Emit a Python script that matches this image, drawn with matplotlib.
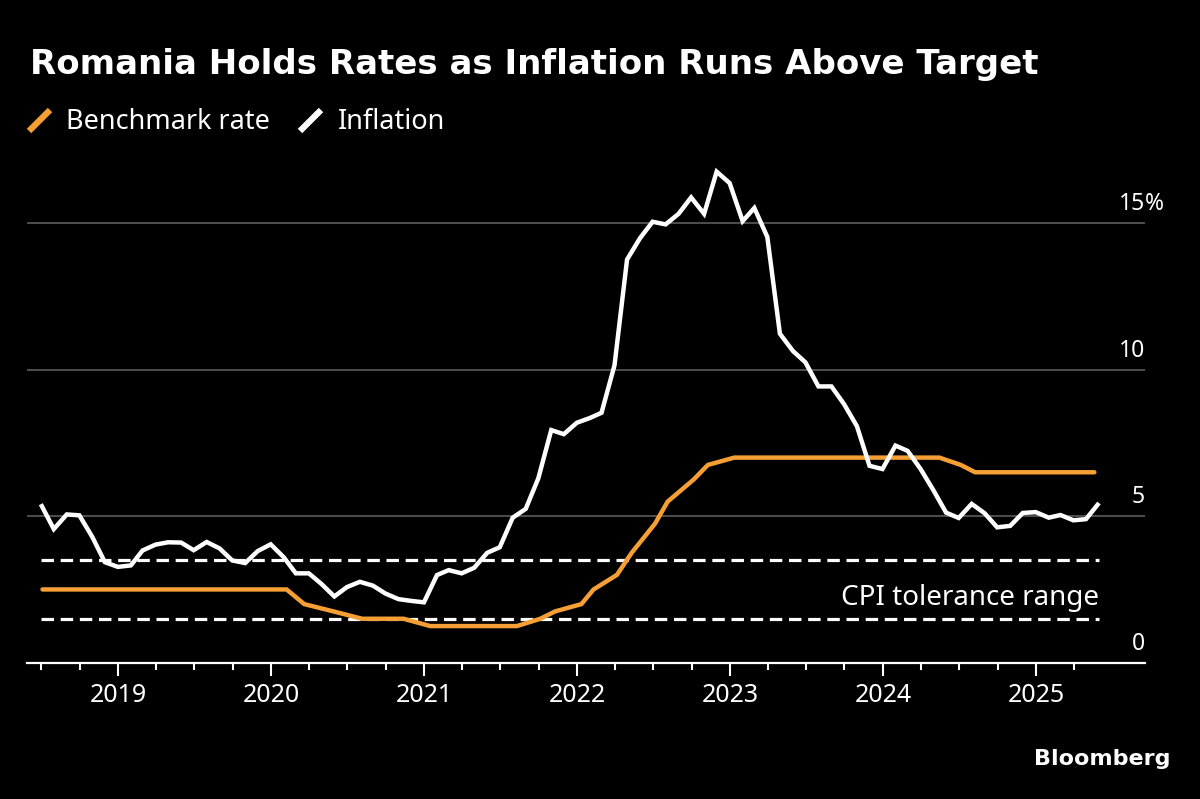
import pandas as pd
import matplotlib.pyplot as plt
import matplotlib.transforms as mtransforms
from matplotlib.lines import Line2D

plt.rcParams['font.family'] = ['Noto Sans', 'DejaVu Sans']

# Romania CPI, year-on-year %, monthly Jun 2018 - May 2025
inflation = [
    5.41, 4.56, 5.06, 5.03, 4.29, 3.43, 3.27,
    3.32, 3.83, 4.03, 4.11, 4.10, 3.84, 4.12, 3.90, 3.49, 3.40, 3.81, 4.04,
    3.60, 3.05, 3.05, 2.69, 2.26, 2.58, 2.76, 2.63, 2.36, 2.17, 2.11, 2.06,
    2.99, 3.16, 3.05, 3.24, 3.75, 3.94, 4.95, 5.25, 6.29, 7.94, 7.80, 8.19,
    8.35, 8.53, 10.15, 13.76, 14.49, 15.05, 14.96, 15.32, 15.88, 15.32, 16.76, 16.37,
    15.07, 15.52, 14.53, 11.23, 10.64, 10.25, 9.43, 9.43, 8.83, 8.07, 6.72, 6.61,
    7.41, 7.23, 6.61, 5.90, 5.12, 4.94, 5.42, 5.10, 4.62, 4.67, 5.11, 5.14,
    4.95, 5.04, 4.86, 4.90, 5.45,
]
months = pd.date_range("2018-06-30", periods=len(inflation), freq="ME")

# benchmark rate at each policy meeting
rate_dates = pd.to_datetime([
    "2018-07-04", "2018-08-07", "2018-10-08", "2018-11-07",
    "2019-01-09", "2019-02-07", "2019-04-04", "2019-05-15", "2019-07-03", "2019-08-07",
    "2019-10-09", "2019-11-06",
    "2020-01-09", "2020-02-07", "2020-03-20", "2020-05-29", "2020-08-05", "2020-11-12",
    "2021-01-15", "2021-02-05", "2021-04-08", "2021-05-13", "2021-07-07", "2021-08-10",
    "2021-10-05", "2021-11-09",
    "2022-01-11", "2022-02-09", "2022-04-06", "2022-05-11", "2022-07-06", "2022-08-05",
    "2022-10-06", "2022-11-09",
    "2023-01-11", "2023-02-08", "2023-04-05", "2023-05-10", "2023-07-05", "2023-08-04",
    "2023-10-05", "2023-11-08",
    "2024-01-12", "2024-02-14", "2024-04-04", "2024-05-15", "2024-07-05", "2024-08-08",
    "2024-10-04", "2024-11-08",
    "2025-01-15", "2025-02-14", "2025-04-04", "2025-05-20",
])
rate_values = [
    2.5, 2.5, 2.5, 2.5,
    2.5, 2.5, 2.5, 2.5, 2.5, 2.5, 2.5, 2.5,
    2.5, 2.5, 2.0, 1.75, 1.5, 1.5,
    1.25, 1.25, 1.25, 1.25, 1.25, 1.25, 1.5, 1.75,
    2.0, 2.5, 3.0, 3.75, 4.75, 5.5, 6.25, 6.75,
    7.0, 7.0, 7.0, 7.0, 7.0, 7.0, 7.0, 7.0,
    7.0, 7.0, 7.0, 7.0, 6.75, 6.5, 6.5, 6.5,
    6.5, 6.5, 6.5, 6.5,
]

# CPI target tolerance band
band_low, band_high = 1.5, 3.5

y_grid = [5, 10, 15]
y_labels = ["0", "5", "10", "15"]
year_ticks = pd.date_range("2019-01-01", "2025-01-01", freq="YS")
quarter_ticks = pd.date_range("2018-07-01", "2025-04-01", freq="QS")

orange = "#f59f35"

fig = plt.figure(figsize=(12, 7.99), dpi=100, facecolor="black")
ax = fig.add_axes([0.0225, 0.1706, 0.9317, 0.6417])
ax.set_facecolor("black")

for g in y_grid:
    ax.axhline(g, color="#5c5c5c", lw=1.2, zorder=1)

for b in [band_low, band_high]:
    ax.hlines(b, months[0], months[-1], color="white", lw=2.3,
              linestyles=(0, (3.9, 2.1)), zorder=2)

ax.plot(rate_dates, rate_values, color=orange, lw=3.2, zorder=3,
        solid_capstyle="round", solid_joinstyle="miter")
ax.plot(months, inflation, color="white", lw=3.2, zorder=4,
        solid_capstyle="butt", solid_joinstyle="miter")

ax.text(months[-1], 2.2, "CPI tolerance range", color="white", fontsize=20,
        ha="right", va="center")

ax.set_ylim(0, 17.5)
ax.set_xlim(pd.Timestamp("2018-05-28"), pd.Timestamp("2025-09-18"))

ax.set_yticks([])
ax.set_xticks(year_ticks)
ax.set_xticklabels([str(d.year) for d in year_ticks])
ax.set_xticks([q for q in quarter_ticks if q.month != 1], minor=True)
ax.tick_params(axis="x", which="major", length=9.5, width=1.5, color="white",
               labelcolor="white", labelsize=18, pad=5)
ax.tick_params(axis="x", which="minor", length=5, width=1.5, color="white")

for s in ["top", "left", "right"]:
    ax.spines[s].set_visible(False)
ax.spines["bottom"].set_color("white")
ax.spines["bottom"].set_linewidth(1.6)

# value labels sit just above each gridline, right aligned
lab_tr = mtransforms.offset_copy(ax.get_yaxis_transform(), fig=fig, y=13, units="dots")
for v, lab in zip([0] + y_grid, y_labels):
    ax.text(1.0, v, lab, transform=lab_tr, color="white", fontsize=16.5,
            ha="right", va="baseline")
ax.text(1.0, y_grid[-1], "%", transform=lab_tr, color="white", fontsize=16.5,
        ha="left", va="baseline")

fig.text(30 / 1200, 1 - 74 / 799, "Romania Holds Rates as Inflation Runs Above Target",
         color="white", fontsize=24.5, fontweight="bold", family="DejaVu Sans",
         va="baseline")

# legend
fig.add_artist(Line2D([29 / 1200, 50 / 1200], [1 - 131 / 799, 1 - 110 / 799],
                      color=orange, lw=4.5, solid_capstyle="butt"))
fig.text(66 / 1200, 1 - 129 / 799, "Benchmark rate", color="white", fontsize=19.5,
         va="baseline")
fig.add_artist(Line2D([300 / 1200, 321 / 1200], [1 - 131 / 799, 1 - 110 / 799],
                      color="white", lw=4.5, solid_capstyle="butt"))
fig.text(338 / 1200, 1 - 129 / 799, "Inflation", color="white", fontsize=19.5,
         va="baseline")

fig.text(1170 / 1200, 1 - 765 / 799, "Bloomberg", color="white", fontsize=16,
         fontweight="bold", family="DejaVu Sans", ha="right", va="baseline")

fig.savefig("out.png", dpi=100, facecolor="black")
